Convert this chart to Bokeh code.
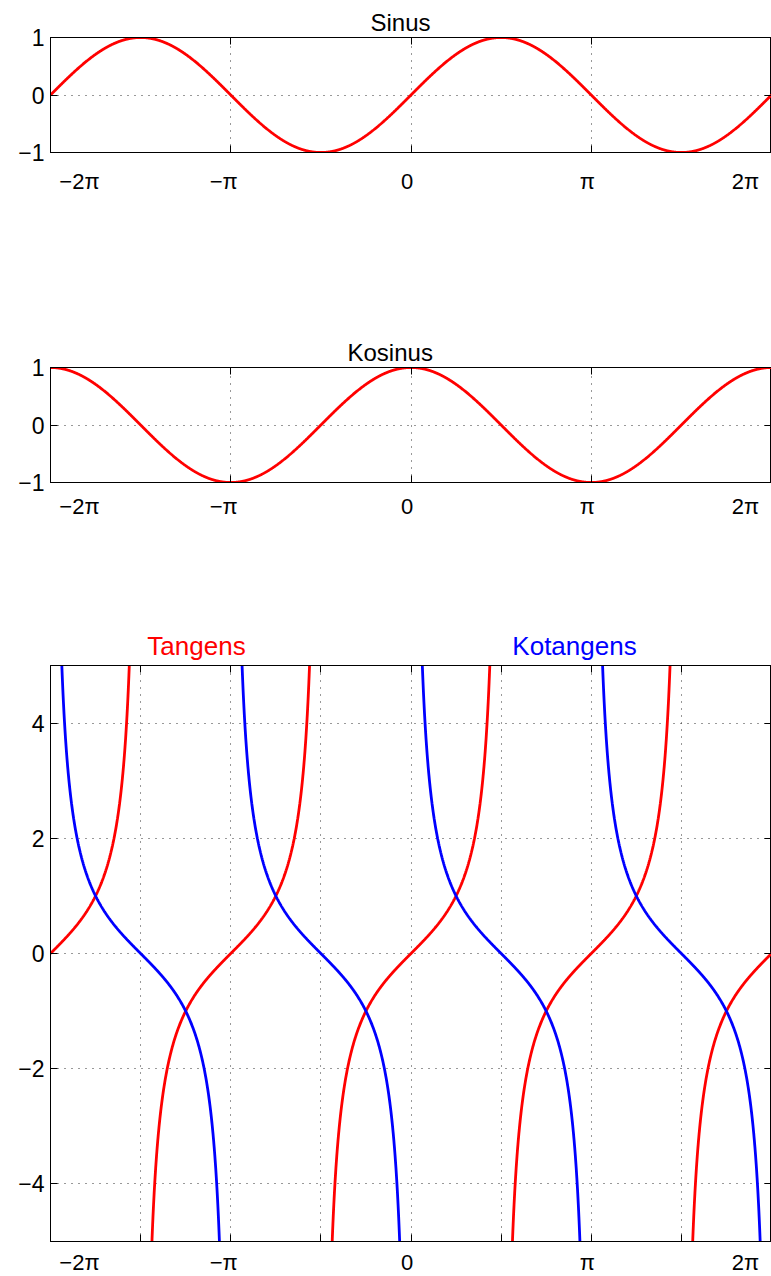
import numpy as np
from bokeh.plotting import figure
from bokeh.models import FixedTicker, LinearAxis, Range1d, Title
from bokeh.layouts import column
from bokeh.core.properties import value
from bokeh.embed import file_html
from bokeh.resources import INLINE

PI = np.pi
# ---- data ----
x_tick_multiples = [-2, -1, 0, 1, 2]
x_tick_labels = ["\u22122\u03c0", "\u2212\u03c0", "0", "\u03c0", "2\u03c0"]
x_tick_label_shift_px = [29, -7, -4, -4, -26]
x_grid_multiples_tan = [-2, -1.5, -1, -0.5, 0, 0.5, 1, 1.5, 2]
y_ticks_trig = [-1, 0, 1]
y_tick_labels_trig = {-1: "\u22121", 0: "0", 1: "1"}
y_ticks_tan = [-4, -2, 0, 2, 4]
y_tick_labels_tan = {-4: "\u22124", -2: "\u22122", 0: "0", 2: "2", 4: "4"}
tan_titles = ["Tangens", "Kotangens"]
tan_title_x_multiples = [-1.19, 0.907]
tan_title_colors = ["#ff0000", "#0000ff"]

x_vals = np.linspace(-2 * PI, 2 * PI, 2401)
sin_vals = np.sin(x_vals)
cos_vals = np.cos(x_vals)
tan_vals = np.tan(x_vals)
cot_vals = np.cos(x_vals) / np.sin(x_vals)

FONT = "Liberation Sans"
RED = "#ff0000"
BLUE = "#0000ff"
FRAME_W = 721
LEFT = 50
PX_TO_DATA = 4 * PI / FRAME_W


def make_panel(ymin, ymax, frame_h, ytick_list, ylabels, xtick_mult, label_standoff,
               top, bottom, title=None, title_offset=0):
    p = figure(frame_width=FRAME_W, frame_height=frame_h, output_backend="svg",
               toolbar_location=None, x_range=Range1d(-2 * PI, 2 * PI),
               y_range=Range1d(ymin, ymax), min_border_left=LEFT, min_border_right=0,
               min_border_top=top, min_border_bottom=bottom, x_axis_location=None,
               y_axis_location=None)
    p.outline_line_color = "black"
    p.outline_line_width = 1
    p.background_fill_color = "white"
    p.border_fill_color = "white"
    if title is not None:
        p.title = Title(text=title, align="left", offset=title_offset, text_font=FONT,
                        text_font_size="24px", text_font_style="normal",
                        text_color="black", standoff=3)
    xt = [m * PI for m in xtick_mult]

    # tick-mark axes (no labels)
    for loc in ["below", "above"]:
        ax = LinearAxis(ticker=FixedTicker(ticks=xt), major_tick_in=7, major_tick_out=0,
                        minor_tick_in=0, minor_tick_out=0, axis_line_color="black",
                        major_tick_line_color="black", major_label_standoff=0,
                        major_label_text_font_size="0px",
                        major_label_overrides={t: "" for t in xt})
        p.add_layout(ax, loc)
    # label axis for x (labels nudged as in the reference)
    lab_pos = [m * PI + dx * PX_TO_DATA for m, dx in zip(x_tick_multiples, x_tick_label_shift_px)]
    lab_ax = LinearAxis(ticker=FixedTicker(ticks=lab_pos), major_tick_in=0, major_tick_out=0,
                        minor_tick_in=0, minor_tick_out=0, axis_line_color=None,
                        major_tick_line_color=None, major_label_standoff=label_standoff,
                        major_label_overrides={t: s for t, s in zip(lab_pos, x_tick_labels)},
                        major_label_text_font=FONT, major_label_text_font_size="22px",
                        major_label_text_color="black")
    p.add_layout(lab_ax, "below")

    lax = LinearAxis(ticker=FixedTicker(ticks=ytick_list), major_tick_in=7, major_tick_out=0,
                     minor_tick_in=0, minor_tick_out=0, axis_line_color="black",
                     major_tick_line_color="black", major_label_standoff=6,
                     major_label_overrides=ylabels,
                     major_label_text_font=FONT, major_label_text_font_size="23px",
                     major_label_text_color="black")
    p.add_layout(lax, "left")
    rax = LinearAxis(ticker=FixedTicker(ticks=ytick_list), major_tick_in=7, major_tick_out=0,
                     minor_tick_in=0, minor_tick_out=0, axis_line_color="black",
                     major_tick_line_color="black", major_label_standoff=0,
                     major_label_text_font_size="0px",
                     major_label_overrides={t: "" for t in ytick_list})
    p.add_layout(rax, "right")

    # grid
    p.xgrid.ticker = FixedTicker(ticks=xt)
    p.ygrid.ticker = FixedTicker(ticks=ytick_list)
    for g in [p.xgrid, p.ygrid]:
        g.grid_line_color = "#333333"
        g.grid_line_dash = "1 6"
        g.grid_line_width = 1
    return p


p1 = make_panel(-1, 1, 115, y_ticks_trig, y_tick_labels_trig, x_tick_multiples, 16,
                top=37, bottom=178, title="Sinus", title_offset=320)
p1.line(x_vals, sin_vals, line_color=RED, line_width=2.8)

p2 = make_panel(-1, 1, 115, y_ticks_trig, y_tick_labels_trig, x_tick_multiples, 11,
                top=37, bottom=141, title="Kosinus", title_offset=297)
p2.line(x_vals, cos_vals, line_color=RED, line_width=2.8)

# header strip carrying the two coloured titles of the bottom panel
h3 = figure(frame_width=FRAME_W, frame_height=40, output_backend="svg", toolbar_location=None,
            x_range=Range1d(-2 * PI, 2 * PI), y_range=Range1d(0, 40),
            min_border_left=LEFT, min_border_right=0, min_border_top=0, min_border_bottom=0,
            x_axis_location=None, y_axis_location=None)
h3.outline_line_color = None
h3.xgrid.visible = False
h3.ygrid.visible = False
h3.text(x=[m * PI for m in tan_title_x_multiples], y=[18, 18], text=tan_titles,
        text_color=tan_title_colors, text_font=value(FONT), text_font_size=value("26px"),
        text_align="center", text_baseline="alphabetic")

tan_plot = np.where(np.abs(tan_vals) > 30, np.nan, tan_vals)
cot_plot = np.where(np.abs(cot_vals) > 30, np.nan, cot_vals)
p3 = make_panel(-5, 5, 576, y_ticks_tan, y_tick_labels_tan, x_grid_multiples_tan, 8,
                top=2, bottom=30)
p3.line(x_vals, tan_plot, line_color=RED, line_width=2.8)
p3.line(x_vals, cot_plot, line_color=BLUE, line_width=2.8)

layout = column(p1, p2, h3, p3, spacing=0)
open("out.html", "w").write(file_html(layout, INLINE))
